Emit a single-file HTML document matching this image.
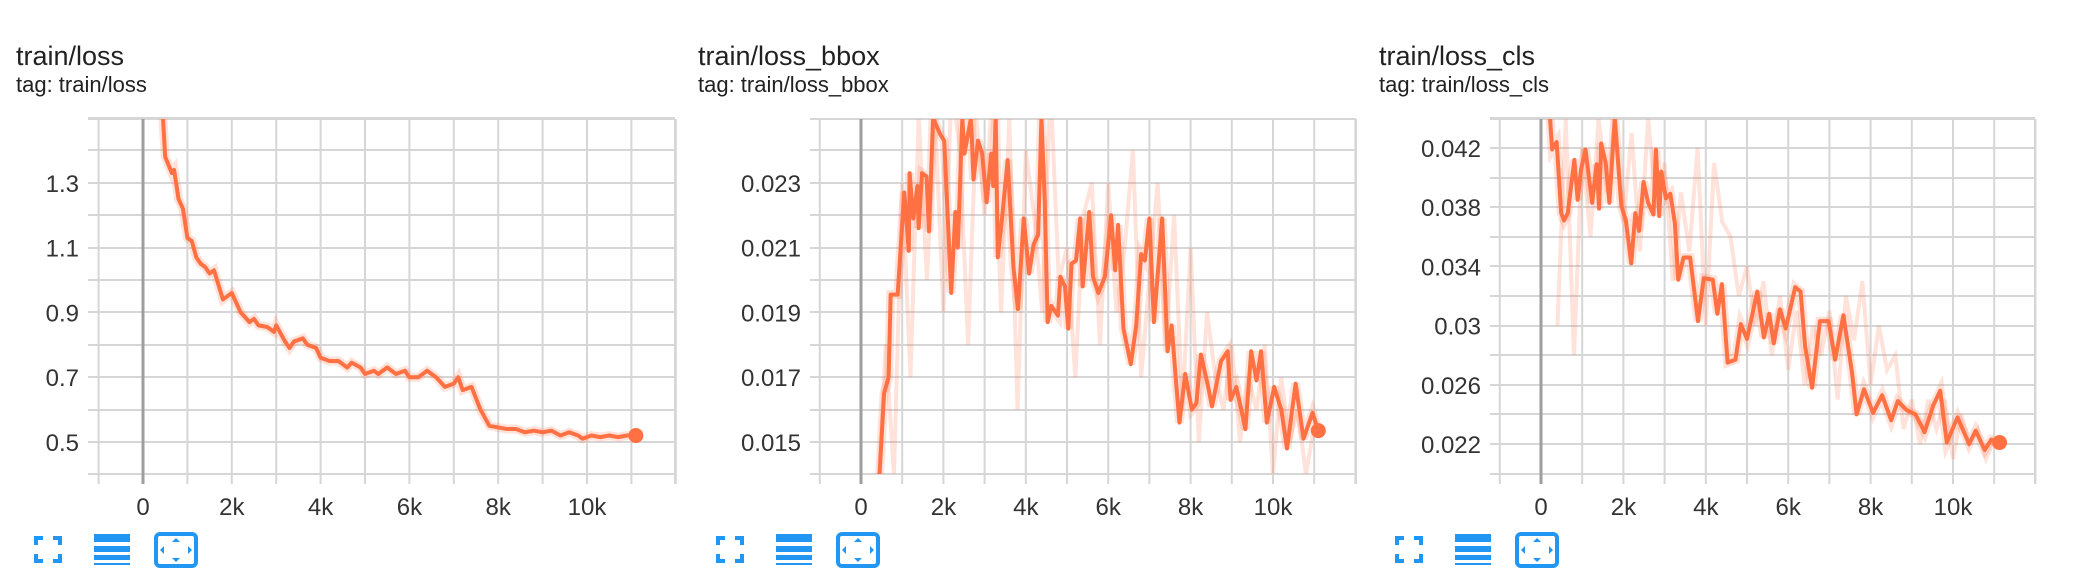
<!DOCTYPE html>
<html><head><meta charset="utf-8">
<style>
body{margin:0;width:2082px;height:582px;background:#fff;overflow:hidden;font-family:"Liberation Sans",sans-serif;}
svg{position:absolute;left:0;top:0}
</style></head>
<body>
<svg id="s" width="2082" height="582"></svg>
<script>
// chart 1: train/loss
const c1Steps=[0.45,0.5,0.65,0.7,0.8,0.9,1.0,1.1,1.2,1.3,1.4,1.5,1.6,1.8,2.0,2.1,2.2,2.4,2.5,2.6,2.8,2.95,3.0,3.2,3.3,3.4,3.6,3.7,3.9,4.0,4.2,4.4,4.6,4.7,4.9,5.0,5.2,5.3,5.5,5.7,5.9,6.0,6.2,6.4,6.6,6.8,7.0,7.1,7.2,7.4,7.6,7.8,8.0,8.2,8.4,8.6,8.8,9.0,9.2,9.4,9.6,9.8,9.9,10.1,10.3,10.5,10.7,10.9,11.1];
const c1Vals=[1.5,1.38,1.33,1.34,1.25,1.22,1.13,1.12,1.07,1.05,1.04,1.02,1.03,0.94,0.96,0.93,0.90,0.87,0.88,0.86,0.855,0.84,0.86,0.81,0.79,0.81,0.82,0.80,0.79,0.76,0.75,0.75,0.73,0.745,0.73,0.71,0.72,0.71,0.73,0.71,0.72,0.70,0.70,0.72,0.70,0.67,0.68,0.70,0.66,0.67,0.60,0.55,0.545,0.54,0.54,0.53,0.535,0.53,0.535,0.52,0.53,0.52,0.51,0.52,0.515,0.52,0.515,0.52,0.52];
const c1Ticks=[0.5,0.7,0.9,1.1,1.3];
const c1TickLabels=["0.5","0.7","0.9","1.1","1.3"];
// chart 2: train/loss_bbox (values x0.001)
const c2Steps=[0.45,0.56,0.67,0.72,0.89,1.05,1.16,1.18,1.27,1.37,1.40,1.48,1.59,1.65,1.75,1.92,2.02,2.19,2.29,2.35,2.46,2.51,2.67,2.73,2.84,2.94,3.05,3.16,3.21,3.27,3.32,3.43,3.56,3.70,3.81,3.95,4.08,4.19,4.30,4.38,4.46,4.53,4.62,4.78,4.84,4.95,5.03,5.11,5.22,5.32,5.38,5.54,5.63,5.76,5.92,6.07,6.17,6.24,6.37,6.55,6.68,6.80,6.89,7.0,7.11,7.31,7.44,7.54,7.65,7.73,7.87,8.03,8.14,8.25,8.41,8.52,8.74,8.90,8.97,9.11,9.33,9.47,9.60,9.71,9.85,10.03,10.20,10.34,10.55,10.74,10.96,11.10];
const c2Vals=[14.0,16.5,17.0,19.55,19.55,22.7,20.9,23.3,21.9,22.9,21.6,23.3,23.2,21.5,25.0,24.5,24.3,19.6,22.1,21.0,25,23.9,25,23.1,24.3,23.9,22.4,23.9,22.9,25,20.7,22.0,23.7,20.4,19.1,21.9,20.2,21.1,21.4,25,22.4,18.7,19.2,18.9,20.1,19.8,18.5,20.5,20.6,21.9,19.8,22.1,20.1,19.6,20.1,22.0,20.3,21.7,18.5,17.4,18.6,20.8,20.6,21.9,18.7,21.9,17.8,18.6,16.8,15.6,17.1,16.0,16.2,17.7,16.8,16.1,17.5,17.8,16.3,16.7,15.4,17.8,16.9,17.8,15.6,16.7,16.0,14.8,16.8,15.1,15.9,15.35];
const c2Raw=[13,18,14,23,17,25,20,25,19,26,24,18,25,22,26,19,25,16,24,22,19,26,20,21,17,22,23,18,23,19,21,24,17,20,23,18,22,16,21,15,19,17,16,18,15,17,16,18,14,17,15,16,14,15.5];
const c2Ticks=[15,17,19,21,23];
const c2TickLabels=["0.015","0.017","0.019","0.021","0.023"];
// chart 3: train/loss_cls (values x0.001)
const c3Steps=[0.22,0.27,0.38,0.49,0.56,0.65,0.81,0.89,0.97,1.08,1.24,1.35,1.41,1.46,1.57,1.66,1.79,1.95,2.06,2.19,2.29,2.38,2.49,2.60,2.73,2.79,2.87,2.92,3.03,3.14,3.25,3.33,3.46,3.62,3.81,3.95,4.17,4.28,4.39,4.53,4.72,4.85,5.0,5.25,5.41,5.54,5.65,5.80,5.94,6.17,6.30,6.41,6.58,6.77,6.98,7.14,7.34,7.55,7.66,7.84,8.06,8.28,8.50,8.66,8.87,9.09,9.31,9.52,9.69,9.85,10.11,10.39,10.55,10.77,10.93,11.13];
const c3Vals=[44,41.9,42.4,37.6,37.1,37.6,41.2,38.5,40.5,41.9,38.3,40.9,37.9,42.3,41.0,38.3,44,38.1,37.1,34.2,37.6,36.4,39.7,38.3,37.5,41.9,37.4,40.4,38.6,38.9,36.9,33.1,34.6,34.6,30.3,33.2,33.1,30.8,32.8,27.5,27.7,30.1,29.1,32.3,29.2,30.8,28.8,31.1,29.8,32.6,32.3,28.6,25.8,30.3,30.3,27.7,30.7,26.8,24.0,25.7,24.1,25.3,23.6,24.9,24.3,24.0,22.8,24.6,25.6,22.1,23.8,22.0,22.9,21.6,22.3,22.1];
const c3Raw=[30,44,28,42,36,44,39,44,37,43,35,44,38,41,33,39,35,42,30,41,37,36,32,34,30,33,28,32,27,31,26,30,28,31,25,32,29,33,26,30,27,28,23,25,22,25,23,25,21,24,22,23,21,22.2];
const c3Ticks=[22,26,30,34,38,42];
const c3TickLabels=["0.022","0.026","0.03","0.034","0.038","0.042"];
const xTicks=[0,2,4,6,8,10];
const xTickLabels=["0","2k","4k","6k","8k","10k"];

const NS="http://www.w3.org/2000/svg";
const svg=document.getElementById('s');
function mk(t,a,p){const e=document.createElementNS(NS,t);for(const k in a)e.setAttribute(k,a[k]);(p||svg).appendChild(e);return e;}

const charts=[
 {title:"train/loss",sub:"tag: train/loss",tx:16,L:88,R:675,x0:143,pk:44.4,y0:0.5,yPx:442,yPer:324,yMin:0.4,yMax:1.5,gridStep:0.1,steps:c1Steps,vals:c1Vals,raw:null,ticks:c1Ticks,tl:c1TickLabels,ix:34,name:"loss"},
 {title:"train/loss_bbox",sub:"tag: train/loss_bbox",tx:698,L:810,R:1356,x0:861,pk:41.2,y0:15,yPx:442,yPer:32.4,yMin:14,yMax:24.5,gridStep:1,steps:c2Steps,vals:c2Vals,raw:c2Raw,ticks:c2Ticks,tl:c2TickLabels,ix:716,name:"loss-bbox"},
 {title:"train/loss_cls",sub:"tag: train/loss_cls",tx:1379,L:1490,R:2035,x0:1541,pk:41.2,y0:22,yPx:444,yPer:14.8,yMin:20,yMax:44,gridStep:2,steps:c3Steps,vals:c3Vals,raw:c3Raw,ticks:c3Ticks,tl:c3TickLabels,ix:1395,name:"loss-cls"}
];
const T=119,B=474;
charts.forEach((c,ci)=>{
 const g=mk('g',{});
 
 
 const xs=k=>c.x0+k*c.pk;
 const ys=v=>c.yPx-(v-c.y0)*c.yPer;
 const t=mk('text',{x:c.tx,y:65,'font-size':27,fill:'#212121'},g);t.textContent=c.title;
 
 const st=mk('text',{x:c.tx,y:92,'font-size':22,fill:'#212121'},g);st.textContent=c.sub;
 
 for(let v=c.yMin;v<=c.yMax+1e-9;v+=c.gridStep){const y=Math.round(ys(v));if(y<T-1||y>B+1)continue;
  const l=mk('line',{x1:c.L,x2:c.R,y1:y,y2:y,stroke:'#d6d6d6','stroke-width':2},g);
  }
 mk('line',{x1:c.L,x2:c.R,y1:T,y2:T,stroke:'#d6d6d6','stroke-width':2},g);
 mk('line',{x1:c.L,x2:c.R,y1:B,y2:B,stroke:'#d6d6d6','stroke-width':2},g);
 for(let k=-1;k<=12;k++){const x=xs(k);if(x<c.L-2||x>c.R+2)continue;
  const l=mk('line',{x1:x,x2:x,y1:T,y2:B+10,stroke:k===0?'#9e9e9e':'#d6d6d6','stroke-width':k===0?3:2},g);
  }
 mk('line',{x1:c.R,x2:c.R,y1:T,y2:B+10,stroke:'#d6d6d6','stroke-width':2},g);
 c.ticks.forEach((v,i)=>{const tt=mk('text',{x:c.L-9,y:ys(v)+9,'font-size':24,fill:'#333','text-anchor':'end'},g);tt.textContent=c.tl[i];
  });
 xTicks.forEach((k,i)=>{const tt=mk('text',{x:xs(k),y:515,'font-size':24,fill:'#333','text-anchor':'middle'},g);tt.textContent=xTickLabels[i];
  });
 const cp=mk('clipPath',{id:'cp'+ci},g);mk('rect',{x:c.L,y:T,width:c.R-c.L,height:B-T},cp);
 const pg=mk('g',{'clip-path':'url(#cp'+ci+')'},g);
 if(c.raw){const pts=c.raw.map((v,i)=>xs(0.4+i*0.2)+','+ys(v)).join(' ');
  const r=mk('polyline',{points:pts,fill:'none',stroke:'#ff7043','stroke-opacity':0.2,'stroke-width':4},pg);
  }
 const pts=c.steps.map((k,i)=>xs(k)+','+ys(c.vals[i])).join(' ');
 const band=mk('polyline',{points:pts,fill:'none',stroke:'#ff7043','stroke-opacity':0.2,'stroke-width':9},pg);
 
 const ln=mk('polyline',{points:pts,fill:'none',stroke:'#ff7043','stroke-width':4,'stroke-linejoin':'round'},pg);
 
 const n=c.steps.length-1;
 const d=mk('circle',{cx:xs(c.steps[n]),cy:ys(c.vals[n]),r:7.5,fill:'#ff7043'},g);
 
 const ix=c.ix;
 const i1=mk('path',{d:`M${ix} ${536}h9v4h-5v5h-4zM${ix+28} 536h-9v4h5v5h4zM${ix} 563h9v-4h-5v-5h-4zM${ix+28} 563h-9v-4h5v-5h4z`,fill:'#2196f3'},g);
 
 const i2=mk('path',{d:`M${ix+60} 534h36v8h-36zM${ix+60} 546h36v6h-36zM${ix+60} 555h36v5h-36zM${ix+60} 563h36v2h-36z`,fill:'#2196f3'},g);
 
 const i3=mk('g',{},g);
 
 mk('rect',{x:ix+122,y:534,width:40,height:32,rx:4,fill:'none',stroke:'#2196f3','stroke-width':4},i3);
 mk('path',{d:`M${ix+142} 538l-4 4h8zM${ix+142} 562l-4 -4h8zM${ix+126} 550l4 -4v8zM${ix+158} 550l-4 -4v8z`,fill:'#2196f3'},i3);
});
</script>
</body></html>
